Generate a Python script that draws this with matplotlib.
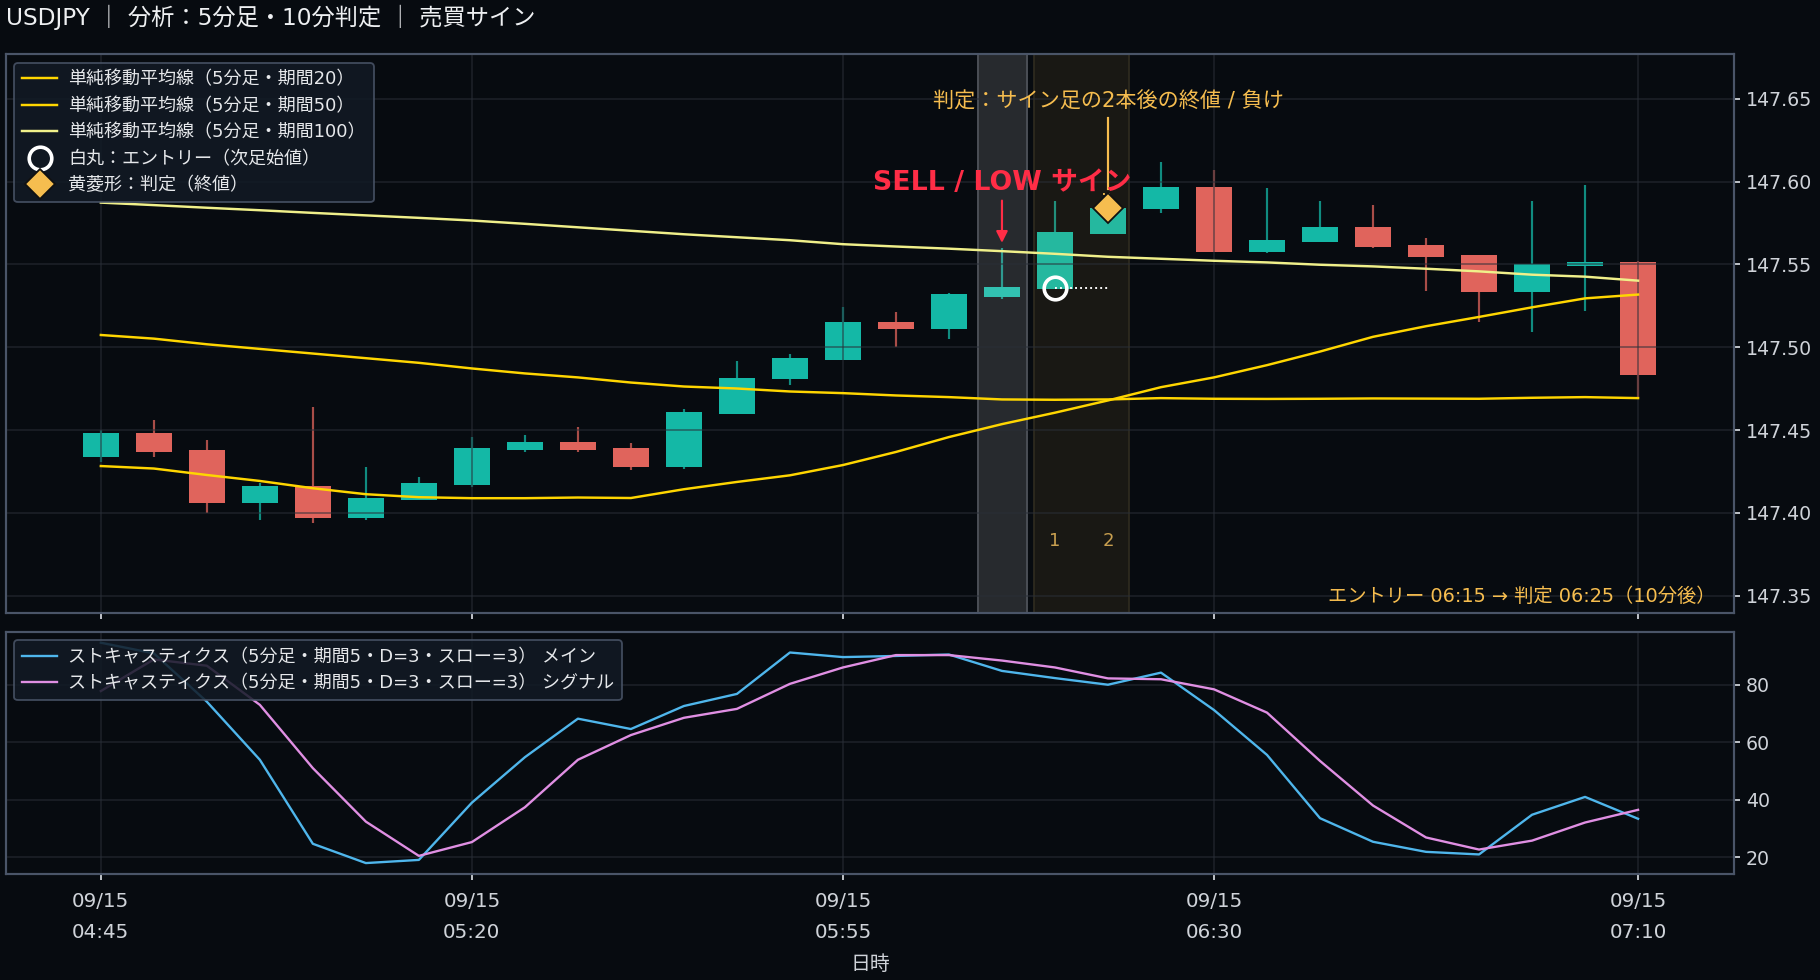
import matplotlib
matplotlib.use('Agg')
import matplotlib.pyplot as plt
import numpy as np

plt.rcParams['font.family'] = ['DejaVu Sans', 'Noto Sans CJK JP']
plt.rcParams['axes.unicode_minus'] = False

# ============================================================
# DATA
# ============================================================
opens = [147.434, 147.448, 147.438, 147.406, 147.416, 147.397, 147.408, 147.417, 147.438, 147.443,
         147.439, 147.4275, 147.4595, 147.4806, 147.4926, 147.515, 147.511, 147.5305, 147.5354, 147.5685,
         147.5836, 147.5968, 147.5577, 147.5637, 147.5727, 147.5619, 147.5558, 147.5336, 147.5492, 147.5516]
closes = [147.448, 147.437, 147.406, 147.416, 147.397, 147.409, 147.418, 147.439, 147.443, 147.438,
          147.4275, 147.4607, 147.4815, 147.4938, 147.515, 147.511, 147.532, 147.5366, 147.5697, 147.584,
          147.5968, 147.5577, 147.5649, 147.5727, 147.5607, 147.5546, 147.5336, 147.5504, 147.5516, 147.4835]
highs = [147.450, 147.456, 147.444, 147.418, 147.464, 147.428, 147.4215, 147.446, 147.447, 147.452,
         147.442, 147.4625, 147.492, 147.496, 147.524, 147.521, 147.533, 147.560, 147.588, 147.592,
         147.612, 147.607, 147.596, 147.588, 147.586, 147.566, 147.5558, 147.588, 147.598, 147.552]
lows = [147.431, 147.434, 147.400, 147.396, 147.394, 147.396, 147.408, 147.4155, 147.437, 147.437,
        147.426, 147.4265, 147.4595, 147.477, 147.4926, 147.500, 147.505, 147.529, 147.5354, 147.5685,
        147.581, 147.5577, 147.557, 147.5637, 147.560, 147.534, 147.515, 147.509, 147.522, 147.469]

sma20 = [147.4283, 147.4268, 147.4229, 147.4193, 147.4149, 147.4113, 147.4095, 147.4089, 147.4089, 147.4093,
         147.4090, 147.4143, 147.4187, 147.4227, 147.4289, 147.4368, 147.4458, 147.4536, 147.4605, 147.4679,
         147.4759, 147.4818, 147.4892, 147.4974, 147.5063, 147.5127, 147.5183, 147.5241, 147.5295, 147.5318]
sma50 = [147.5074, 147.5052, 147.5018, 147.4990, 147.4962, 147.4934, 147.4906, 147.4872, 147.4842, 147.4818,
         147.4787, 147.4763, 147.4751, 147.4733, 147.4723, 147.4709, 147.4699, 147.4685, 147.4683, 147.4685,
         147.4693, 147.4689, 147.4688, 147.4689, 147.4691, 147.4690, 147.4689, 147.4695, 147.4699, 147.4693]
sma100 = [147.5873, 147.5858, 147.5842, 147.5827, 147.5811, 147.5796, 147.5781, 147.5765, 147.5745, 147.5724,
          147.5703, 147.5682, 147.5664, 147.5646, 147.5622, 147.5608, 147.5595, 147.5580, 147.5564, 147.5546,
          147.5534, 147.5522, 147.5512, 147.5498, 147.5488, 147.5474, 147.5458, 147.5438, 147.5426, 147.5402]

stoch_main = [94.6, 90.9, 74.1, 53.9, 24.7, 18.0, 19.1, 39.0, 54.8, 68.2,
              64.6, 72.6, 76.8, 91.2, 89.6, 90.0, 90.5, 84.8, 82.3, 80.0,
              84.2, 71.2, 55.6, 33.6, 25.4, 21.9, 21.0, 34.8, 41.0, 33.4]
stoch_signal = [77.8, 88.8, 86.6, 73.0, 51.0, 32.4, 20.5, 25.3, 37.4, 53.9,
                62.5, 68.5, 71.6, 80.3, 86.0, 90.3, 90.3, 88.4, 86.0, 82.2,
                81.9, 78.4, 70.3, 53.5, 38.0, 26.9, 22.7, 25.8, 32.1, 36.5]

xtick_pos = [0, 7, 14, 21, 29]
xtick_labels = ['09/15\n04:45', '09/15\n05:20', '09/15\n05:55', '09/15\n06:30', '09/15\n07:10']
price_ticks = [147.35, 147.40, 147.45, 147.50, 147.55, 147.60, 147.65]
stoch_ticks = [20, 40, 60, 80]

signal_idx = 17
entry_idx = 18
verdict_idx = 19
entry_price = 147.5358
verdict_price = 147.584

# Style
BG = '#070b10'
SPINE = '#4a5568'
GRID = '#2a2f38'
TICK = '#cfd3d9'
TEAL = '#14b8a6'
RED = '#e0645c'
ORANGE = '#f6bd4f'
W, H = 1820, 980

x = np.arange(len(opens))
fig = plt.figure(figsize=(14, 980 / 130), dpi=130, facecolor=BG)
ax = fig.add_axes([6 / W, 1 - 612.5 / H, 1728 / W, 559 / H], facecolor=BG)
ax2 = fig.add_axes([6 / W, 1 - 874 / H, 1728 / W, 242.5 / H], facecolor=BG)

for a in (ax, ax2):
    a.set_axisbelow('line')
    a.grid(True, color=GRID, linewidth=1.1, alpha=0.5)
    a.yaxis.tick_right()
    a.set_xlim(-1.789, 30.81)
    a.set_xticks(xtick_pos)
    a.tick_params(colors=TICK, length=3.2, width=1, pad=3.5)
    a.tick_params(axis='y', labelsize=10.5)
    for s in a.spines.values():
        s.set_color(SPINE)
        s.set_linewidth(1.2)

# ------------------------------------------------------------
# Candles
# ------------------------------------------------------------
body_bottom = np.minimum(opens, closes)
body_height = np.abs(np.array(closes) - np.array(opens))
up = np.array(closes) >= np.array(opens)
colors = [TEAL if u else RED for u in up]
ax.bar(x, body_height, 0.68, bottom=body_bottom, color=colors, zorder=1)
ax.vlines(x, lows, highs, colors=colors, linewidth=1.2, alpha=0.75, zorder=1.2)

# highlight bands
ax.axvspan(signal_idx - 0.46, signal_idx + 0.48, facecolor='#ffffff', alpha=0.13, edgecolor='none', zorder=1.3)
ax.axvline(signal_idx - 0.46, color='#4a4e55', linewidth=1.1, zorder=1.3)
ax.axvline(signal_idx + 0.48, color='#4a4e55', linewidth=1.1, zorder=1.3)
ax.axvspan(entry_idx - 0.39, verdict_idx + 0.39, facecolor=ORANGE, alpha=0.08, edgecolor='none', zorder=1.3)
ax.axvline(entry_idx - 0.39, color='#2d2a1f', linewidth=1.0, zorder=1.3)
ax.axvline(verdict_idx + 0.39, color='#2d2a1f', linewidth=1.0, zorder=1.3)

ax.plot(x, sma20, color='#ffd600', linewidth=1.35, label='単純移動平均線（5分足・期間20）', zorder=2)
ax.plot(x, sma50, color='#ffd600', linewidth=1.35, label='単純移動平均線（5分足・期間50）', zorder=2)
ax.plot(x, sma100, color='#f0f08a', linewidth=1.35, label='単純移動平均線（5分足・期間100）', zorder=2)

# Entry / verdict markers
ax.plot([entry_idx, verdict_idx], [entry_price, entry_price], color='white', linestyle=':', linewidth=1.05, zorder=3)
ax.plot([entry_idx], [entry_price], 'o', markersize=12.5, markerfacecolor='none', markeredgecolor='white',
        markeredgewidth=2.0, linestyle='none', zorder=4, label='白丸：エントリー（次足始値）')
ax.plot([verdict_idx], [verdict_price], 'D', markersize=12.0, markerfacecolor=ORANGE, markeredgecolor='#111111',
        markeredgewidth=1.0, linestyle='none', zorder=4, label='黄菱形：判定（終値）')

# Annotations
ax.text(signal_idx, 147.5994, 'SELL / LOW サイン', color='#ff2d46', fontsize=14.8, fontweight='bold',
        ha='center', va='center', zorder=6)
ax.annotate('', xy=(signal_idx, 147.5630), xytext=(signal_idx, 147.5885),
            arrowprops=dict(arrowstyle='-|>', color='#ff2d46', lw=1.2, mutation_scale=13, shrinkA=0, shrinkB=0), zorder=6)
ax.plot([verdict_idx, verdict_idx], [147.5955, 147.6385], color=ORANGE, linewidth=1.2, zorder=3.5)
ax.plot([verdict_idx - 0.1, verdict_idx + 0.1], [147.5925, 147.5925], color=ORANGE, linestyle=':', linewidth=1.05, zorder=3.5)
ax.text(verdict_idx, 147.6484, '判定：サイン足の2本後の終値 / 負け', color=ORANGE, fontsize=11.7,
        ha='center', va='center', zorder=6)
ax.text(entry_idx, 147.3828, '1', color='#c9a050', fontsize=10, ha='center', va='center', zorder=6)
ax.text(verdict_idx, 147.3828, '2', color='#c9a050', fontsize=10, ha='center', va='center', zorder=6)
ax.text(0.9894, 0.029, 'エントリー 06:15 → 判定 06:25（10分後）', color=ORANGE, fontsize=10.7,
        ha='right', va='center', transform=ax.transAxes, zorder=6)

ax.set_ylim(147.3399, 147.6773)
ax.set_yticks(price_ticks)
ax.set_yticklabels([f'{p:.2f}' for p in price_ticks])
ax.tick_params(axis='x', labelbottom=False)

legend_style = dict(loc='upper left', borderaxespad=0, fontsize=10, facecolor='#121a25', edgecolor=SPINE,
                    framealpha=0.86, labelcolor='#e6e8eb', labelspacing=0.47, borderpad=0.42,
                    handlelength=1.95, handletextpad=0.62)
leg = ax.legend(bbox_to_anchor=(0.0049, 0.983), **legend_style)
leg.get_frame().set_linewidth(1.0)
leg.set_zorder(10)

# ------------------------------------------------------------
# Stochastic panel
# ------------------------------------------------------------
ax2.plot(x, stoch_main, color='#4fb6ec', linewidth=1.3, label='ストキャスティクス（5分足・期間5・D=3・スロー=3） メイン')
ax2.plot(x, stoch_signal, color='#e08fe3', linewidth=1.3, label='ストキャスティクス（5分足・期間5・D=3・スロー=3） シグナル')
ax2.set_ylim(14.2, 98.5)
ax2.set_yticks(stoch_ticks)
ax2.set_xticks(xtick_pos)
ax2.set_xticklabels(xtick_labels, linespacing=1.76)
ax2.tick_params(axis='x', pad=7, labelsize=11)
ax2.set_xlabel('日時', color=TICK, fontsize=11, labelpad=7.5)

leg2 = ax2.legend(bbox_to_anchor=(0.0049, 0.963), **legend_style)
leg2.get_frame().set_linewidth(1.0)

fig.text(6 / W, 1 - 17 / H, 'USDJPY ｜ 分析：5分足・10分判定 ｜ 売買サイン', color='#eef0f2', fontsize=12.85,
         ha='left', va='center')

fig.savefig('out.png', dpi=130, facecolor=BG)
